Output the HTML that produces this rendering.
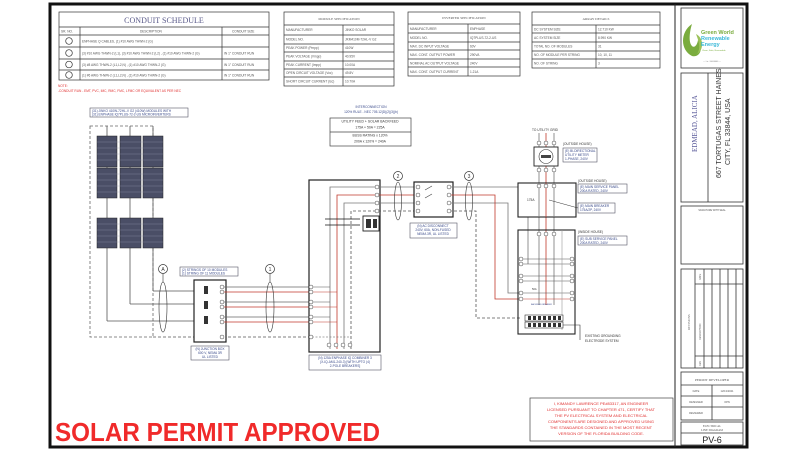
<!DOCTYPE html>
<html><head><meta charset="utf-8"><style>
html,body{margin:0;padding:0;background:#fff;}
svg{display:block;}
text{font-family:"Liberation Sans",sans-serif;}
.t{font-size:3.2px;fill:#555;}
.tb{font-size:3.2px;fill:#3a4a8a;}
.s{font-family:"Liberation Serif",serif;}
</style></head><body>
<svg width="800" height="453" viewBox="0 0 800 453" xmlns="http://www.w3.org/2000/svg">
<rect width="800" height="453" fill="#fff"/>
<!-- outer border -->
<rect x="50" y="4" width="697" height="443" fill="none" stroke="#111" stroke-width="3"/>
<line x1="675" y1="4" x2="675" y2="447" stroke="#222" stroke-width="1"/>

<!-- CONDUIT SCHEDULE -->
<g stroke="#333" stroke-width="0.7" fill="none">
<rect x="59" y="12" width="210" height="68"/>
<line x1="59" y1="27" x2="269" y2="27"/>
<line x1="59" y1="35" x2="269" y2="35"/>
<line x1="59" y1="47" x2="269" y2="47"/>
<line x1="59" y1="59" x2="269" y2="59"/>
<line x1="59" y1="70" x2="269" y2="70"/>
<line x1="80" y1="27" x2="80" y2="80"/>
<line x1="222" y1="27" x2="222" y2="80"/>
<circle cx="69" cy="41" r="3.3"/><circle cx="69" cy="53" r="3.3"/><circle cx="69" cy="64.5" r="3.3"/><circle cx="69" cy="75" r="3.3"/>
</g>
<text x="164" y="23" text-anchor="middle" class="s" font-size="8" fill="#5a5a8a">CONDUIT SCHEDULE</text>
<text x="61" y="32.5" class="t">SR. NO.</text><text x="140" y="32.5" class="t">DESCRIPTION</text><text x="232" y="32.5" class="t">CONDUIT SIZE</text>
<text x="82" y="42.5" class="t">ENPHASE Q CABLES, (1) #10 AWG THWN-2 (G)</text>
<text x="82" y="54.5" class="t">(3) #10 AWG THWN-2 (L1), (3) #10 AWG THWN-2 (L2) , (1) #10 AWG THWN-2 (G)</text>
<text x="82" y="66" class="t">(3) #8 AWG THWN-2 (L1,L2,N) , (1) #10 AWG THWN-2 (G)</text>
<text x="82" y="76.5" class="t">(1) #6 AWG THWN-2 (L1,L2,N) , (1) #10 AWG THWN-2 (G)</text>
<text x="224" y="54.5" class="t">IN 1" CONDUIT RUN</text><text x="224" y="66" class="t">IN 1" CONDUIT RUN</text><text x="224" y="76.5" class="t">IN 1" CONDUIT RUN</text>
<text x="58" y="87" font-size="3.2" fill="#e03030">NOTE:</text>
<text x="58" y="92" font-size="3.2" fill="#e03030">-CONDUIT RUN - EMT, PVC, IMC, RMC, FMC, LFMC OR EQUIVALENT AS PER NEC</text>

<!-- MODULE SPEC -->
<g stroke="#333" stroke-width="0.7" fill="none">
<rect x="284" y="12" width="110" height="74"/>
<line x1="284" y1="25" x2="394" y2="25"/><line x1="284" y1="35" x2="394" y2="35"/><line x1="284" y1="44" x2="394" y2="44"/><line x1="284" y1="52" x2="394" y2="52"/><line x1="284" y1="61" x2="394" y2="61"/><line x1="284" y1="69" x2="394" y2="69"/><line x1="284" y1="77" x2="394" y2="77"/>
<line x1="343" y1="25" x2="343" y2="86"/>
</g>
<text x="339" y="20" text-anchor="middle" class="s" font-size="3.5" fill="#555">MODULE SPECIFICATION</text>
<g class="t">
<text x="286" y="31">MANUFACTURER</text><text x="345" y="31">JINKO SOLAR</text>
<text x="286" y="40.5">MODEL NO.</text><text x="345" y="40.5">JKM410M-72HL-V G2</text>
<text x="286" y="49">PEAK POWER (Pmpp)</text><text x="345" y="49">410W</text>
<text x="286" y="57.5">PEAK VOLTAGE (Vmpp)</text><text x="345" y="57.5">40.95V</text>
<text x="286" y="66">PEAK CURRENT (Impp)</text><text x="345" y="66">10.00A</text>
<text x="286" y="74">OPEN CIRCUIT VOLTAGE (Voc)</text><text x="345" y="74">49.8V</text>
<text x="286" y="82.5">SHORT CIRCUIT CURRENT (Isc)</text><text x="345" y="82.5">10.70A</text>
</g>

<!-- INVERTER SPEC -->
<g stroke="#333" stroke-width="0.7" fill="none">
<rect x="408" y="12" width="112" height="64"/>
<line x1="408" y1="24" x2="520" y2="24"/><line x1="408" y1="33" x2="520" y2="33"/><line x1="408" y1="42" x2="520" y2="42"/><line x1="408" y1="50" x2="520" y2="50"/><line x1="408" y1="59" x2="520" y2="59"/><line x1="408" y1="67" x2="520" y2="67"/>
<line x1="468" y1="24" x2="468" y2="76"/>
</g>
<text x="464" y="19" text-anchor="middle" class="s" font-size="3.5" fill="#555">INVERTER SPECIFICATION</text>
<g class="t">
<text x="410" y="30">MANUFACTURER</text><text x="470" y="30">ENPHASE</text>
<text x="410" y="39">MODEL NO.</text><text x="470" y="39">IQ7PLUS-72-2-US</text>
<text x="410" y="47.5">MAX. DC INPUT VOLTAGE</text><text x="470" y="47.5">60V</text>
<text x="410" y="56">MAX. CONT. OUTPUT POWER</text><text x="470" y="56">290VA</text>
<text x="410" y="64.5">NOMINAL AC OUTPUT VOLTAGE</text><text x="470" y="64.5">240V</text>
<text x="410" y="73">MAX. CONT. OUTPUT CURRENT</text><text x="470" y="73">1.21A</text>
</g>

<!-- ARRAY DETAILS -->
<g stroke="#333" stroke-width="0.7" fill="none">
<rect x="532" y="12" width="128" height="56"/>
<line x1="532" y1="25" x2="660" y2="25"/><line x1="532" y1="33" x2="660" y2="33"/><line x1="532" y1="42" x2="660" y2="42"/><line x1="532" y1="51" x2="660" y2="51"/><line x1="532" y1="59" x2="660" y2="59"/>
<line x1="596" y1="25" x2="596" y2="68"/>
</g>
<text x="596" y="20" text-anchor="middle" class="s" font-size="3.5" fill="#555">ARRAY DETAILS</text>
<g class="t">
<text x="534" y="30.5">DC SYSTEM SIZE</text><text x="598" y="30.5">12.710 KW</text>
<text x="534" y="39">AC SYSTEM SIZE</text><text x="598" y="39">8.990 KW</text>
<text x="534" y="47.5">TOTAL NO. OF MODULES</text><text x="598" y="47.5">31</text>
<text x="534" y="56">NO. OF MODULE PER STRING</text><text x="598" y="56">10, 10, 11</text>
<text x="534" y="64.5">NO. OF STRING</text><text x="598" y="64.5">3</text>
</g>

<!-- TITLE BLOCK -->
<g stroke="#333" stroke-width="0.8" fill="none">
<rect x="681" y="8" width="62" height="60"/>
<rect x="681" y="73" width="62" height="129"/>
<line x1="708" y1="73" x2="708" y2="202"/>
<rect x="681" y="206" width="62" height="58"/>
<rect x="681" y="269" width="62" height="99"/>
<line x1="695" y1="269" x2="695" y2="368"/><line x1="704" y1="269" x2="704" y2="368"/><line x1="712" y1="269" x2="712" y2="368"/><line x1="720" y1="269" x2="720" y2="368"/><line x1="728" y1="269" x2="728" y2="368"/><line x1="736" y1="269" x2="736" y2="368"/>
<line x1="695" y1="284" x2="743" y2="284"/><line x1="695" y1="356" x2="743" y2="356"/>
<rect x="681" y="372" width="62" height="48"/>
<line x1="681" y1="385" x2="743" y2="385"/><line x1="681" y1="396" x2="743" y2="396"/><line x1="681" y1="407" x2="743" y2="407"/>
<line x1="712" y1="385" x2="712" y2="420"/>
<rect x="681" y="422" width="62" height="23"/>
<line x1="681" y1="433" x2="743" y2="433"/>
</g>
<!-- logo -->
<path d="M692 24 C680 32 680 50 692 56 C700 58 704 48 698 40 C697 46 694 48 692 46 C688 42 690 30 692 24 Z" fill="#7aac3e"/>
<path d="M696 34 C704 38 704 50 697 54 C701 48 699 42 696 34 Z" fill="#9cc25a"/>
<text x="701" y="34" font-size="5.5" font-weight="bold" fill="#7aac3e">Green World</text>
<text x="701" y="40" font-size="5.5" font-weight="bold" fill="#3ab8d8">Renewable</text>
<text x="701" y="46" font-size="5.5" font-weight="bold" fill="#3ab8d8">Energy</text>
<text x="702" y="51" font-size="2.2" fill="#7aac3e">Clean, Safe, Renewable</text>
<text x="712" y="62" font-size="2" fill="#777" text-anchor="middle">— Lic. #0000000 —</text>
<text transform="translate(697,152) rotate(-90)" class="s" font-size="7" fill="#5a5a9a">EDMEAD, ALICIA</text>
<text transform="translate(721,178) rotate(-90)" font-size="7" fill="#333">667 TORTUGAS STREET HAINES</text>
<text transform="translate(730,165) rotate(-90)" font-size="7" fill="#333">CITY, FL 33844, USA</text>
<text x="712" y="211" text-anchor="middle" font-size="2.4" fill="#555">SIGNATURE WITH SEAL</text>
<text transform="translate(690,330) rotate(-90)" class="s" font-size="3" fill="#555">REVISIONS</text>
<text transform="translate(701,340) rotate(-90)" font-size="2.4" fill="#555">DESCRIPTION</text>
<text transform="translate(701,280) rotate(-90)" font-size="2.4" fill="#555">DATE</text>
<text transform="translate(701,366) rotate(-90)" font-size="2.4" fill="#555">REV</text>
<text x="712" y="381" text-anchor="middle" class="s" font-size="3.5" fill="#555">PERMIT DEVELOPER</text>
<text x="696" y="392" text-anchor="middle" font-size="2.6" fill="#555">DATE</text><text x="727" y="392" text-anchor="middle" font-size="2.6" fill="#555">12/13/2021</text>
<text x="696" y="403" text-anchor="middle" font-size="2.6" fill="#555">DESIGNER</text><text x="727" y="403" text-anchor="middle" font-size="2.6" fill="#555">OPN</text>
<text x="696" y="414" text-anchor="middle" font-size="2.6" fill="#555">REVIEWER</text>
<text x="712" y="427" text-anchor="middle" class="s" font-size="3" fill="#555">ELECTRICAL</text>
<text x="712" y="431" text-anchor="middle" class="s" font-size="3" fill="#555">LINE DIAGRAM</text>
<text x="712" y="443" text-anchor="middle" font-size="9" fill="#222">PV-6</text>

<!-- PV ARRAY -->
<rect x="90" y="108" width="98" height="9" fill="none" stroke="#556" stroke-width="0.6"/>
<text x="92" y="111.8" class="tb">(31) JINKO 410W-72HL-V G2 (410W) MODULES WITH</text>
<text x="92" y="115.6" class="tb">(31) ENPHASE IQ7PLUS-72-2-US MICROINVERTERS</text>
<rect x="90" y="126" width="63" height="211" fill="none" stroke="#666" stroke-width="0.8" stroke-dasharray="3,2"/>
<g stroke="#555" stroke-width="0.8" fill="none">
<line x1="107" y1="126" x2="107" y2="321"/><line x1="107" y1="321" x2="194" y2="321"/>
<line x1="130" y1="126" x2="130" y2="304"/><line x1="130" y1="304" x2="194" y2="304"/>
<line x1="153" y1="126" x2="153" y2="291"/><line x1="153" y1="291" x2="194" y2="291"/>
</g>
<line x1="153" y1="337" x2="309" y2="337" stroke="#555" stroke-width="0.8" stroke-dasharray="3,2"/>
<g fill="#4a4e66" stroke="#222" stroke-width="0.5">
<rect x="97" y="136" width="20" height="31"/><rect x="120" y="136" width="21" height="31"/><rect x="143" y="136" width="20" height="31"/>
<rect x="97" y="168" width="20" height="30"/><rect x="120" y="168" width="21" height="30"/><rect x="143" y="168" width="20" height="30"/>
<rect x="97" y="218" width="20" height="30"/><rect x="120" y="218" width="21" height="30"/><rect x="143" y="218" width="20" height="30"/>
</g>
<g stroke="#9aa0b8" stroke-width="0.3">
<line x1="97" y1="142" x2="163" y2="142"/><line x1="97" y1="148" x2="163" y2="148"/><line x1="97" y1="154" x2="163" y2="154"/><line x1="97" y1="160" x2="163" y2="160"/>
<line x1="97" y1="174" x2="163" y2="174"/><line x1="97" y1="180" x2="163" y2="180"/><line x1="97" y1="186" x2="163" y2="186"/><line x1="97" y1="192" x2="163" y2="192"/>
<line x1="97" y1="224" x2="163" y2="224"/><line x1="97" y1="230" x2="163" y2="230"/><line x1="97" y1="236" x2="163" y2="236"/><line x1="97" y1="242" x2="163" y2="242"/>
</g>
<!-- A and 1 -->
<g stroke="#333" stroke-width="0.7" fill="#fff">
<circle cx="163" cy="269" r="4.5"/><circle cx="270" cy="269" r="4.5"/>
</g>
<text x="163" y="271" text-anchor="middle" font-size="5" fill="#333">A</text>
<text x="270" y="271" text-anchor="middle" font-size="5" fill="#333">1</text>
<line x1="163" y1="274" x2="163" y2="282" stroke="#333" stroke-width="0.6"/>
<line x1="270" y1="274" x2="270" y2="282" stroke="#333" stroke-width="0.6"/>
<rect x="180" y="267" width="58" height="9" fill="none" stroke="#556" stroke-width="0.6"/>
<text x="182" y="270.8" class="tb">(2) STRINGS OF 10 MODULES</text>
<text x="182" y="274.6" class="tb">(1) STRING OF 11 MODULES</text>

<!-- junction box -->
<rect x="194" y="280" width="32" height="62" fill="#fff" stroke="#222" stroke-width="1.2"/>
<g fill="#333"><rect x="204" y="286" width="4" height="8"/><rect x="204" y="301" width="4" height="8"/><rect x="204" y="316" width="4" height="8"/></g>
<g stroke="#666" stroke-width="0.8">
<line x1="222" y1="287" x2="309" y2="287"/><line x1="222" y1="302" x2="309" y2="302"/><line x1="222" y1="317" x2="309" y2="317"/>
</g>
<g stroke="#c0392b" stroke-width="0.8">
<line x1="222" y1="292" x2="309" y2="292"/><line x1="222" y1="307" x2="309" y2="307"/><line x1="222" y1="322" x2="309" y2="322"/>
</g>
<g fill="#fff" stroke="#444" stroke-width="0.5">
<circle cx="222" cy="287" r="2"/><circle cx="222" cy="292" r="2"/><circle cx="222" cy="302" r="2"/><circle cx="222" cy="307" r="2"/><circle cx="222" cy="317" r="2"/><circle cx="222" cy="322" r="2"/><circle cx="222" cy="337" r="2"/>
</g>
<g fill="none" stroke="#333" stroke-width="0.6">
<ellipse cx="163" cy="307" rx="4" ry="25"/><ellipse cx="270" cy="307" rx="4" ry="25"/>
</g>
<rect x="191" y="346" width="38" height="14" fill="none" stroke="#556" stroke-width="0.6"/>
<text x="210" y="350" text-anchor="middle" class="tb">(N) JUNCTION BOX</text>
<text x="210" y="354" text-anchor="middle" class="tb">600 V, NEMA 3R</text>
<text x="210" y="358" text-anchor="middle" class="tb">UL LISTED</text>

<!-- combiner -->
<rect x="309" y="180" width="71" height="172" fill="#fff" stroke="#222" stroke-width="1.2"/>
<g stroke="#777" stroke-width="0.8" fill="none">
<polyline points="330,349 330,187 377,187 398,187 414,187"/>
<polyline points="344,349 344,203 377,203 414,203"/>
</g>
<g stroke="#c0392b" stroke-width="0.8" fill="none">
<polyline points="337,349 337,195 414,195"/>
</g>
<polyline points="351,349 351,211 414,211" stroke="#555" stroke-width="0.8" fill="none" stroke-dasharray="3,2"/>
<g stroke="#555" stroke-width="0.6">
<line x1="312" y1="287" x2="330" y2="287"/><line x1="312" y1="302" x2="330" y2="302"/><line x1="312" y1="317" x2="330" y2="317"/>
<line x1="312" y1="337" x2="351" y2="337" stroke-dasharray="2,1.5"/>
</g>
<g stroke="#c0392b" stroke-width="0.6">
<line x1="312" y1="292" x2="337" y2="292"/><line x1="312" y1="307" x2="337" y2="307"/><line x1="312" y1="322" x2="337" y2="322"/>
</g>
<g fill="#fff" stroke="#444" stroke-width="0.5">
<circle cx="311" cy="287" r="2"/><circle cx="311" cy="292" r="2"/><circle cx="311" cy="302" r="2"/><circle cx="311" cy="307" r="2"/><circle cx="311" cy="317" r="2"/><circle cx="311" cy="322" r="2"/><circle cx="311" cy="337" r="2"/>
<circle cx="329" cy="345" r="2"/><circle cx="336" cy="345" r="2"/><circle cx="343" cy="345" r="2"/><circle cx="350" cy="345" r="2"/>
<circle cx="377" cy="187" r="2"/><circle cx="377" cy="195" r="2"/><circle cx="377" cy="203" r="2"/><circle cx="377" cy="211" r="2"/>
</g>
<g stroke="#111" stroke-width="0.8">
<line x1="325" y1="219" x2="360" y2="219"/><line x1="325" y1="225" x2="360" y2="225"/>
</g>
<rect x="363" y="216" width="16" height="15" fill="#fff" stroke="#222" stroke-width="0.9"/>
<rect x="366" y="219" width="5" height="9" fill="#333"/><rect x="373" y="219" width="4" height="9" fill="#333"/>
<rect x="309" y="355" width="72" height="15" fill="none" stroke="#556" stroke-width="0.6"/>
<text x="345" y="359" text-anchor="middle" class="tb">(N) 125A ENPHASE IQ COMBINER 3</text>
<text x="345" y="363" text-anchor="middle" class="tb">(X-IQ-AM1-240-3) [WITH UPTO (4)</text>
<text x="345" y="367" text-anchor="middle" class="tb">2-POLE BREAKERS]</text>

<!-- interconnection -->
<text x="371" y="108" text-anchor="middle" class="tb">INTERCONNECTION</text>
<text x="371" y="113" text-anchor="middle" class="tb">120% RULE - NEC 705.12(D)(2)(3)(b)</text>
<rect x="330" y="118" width="81" height="28" fill="none" stroke="#444" stroke-width="0.7"/>
<line x1="330" y1="132" x2="411" y2="132" stroke="#444" stroke-width="0.7"/>
<text x="370" y="122.5" text-anchor="middle" font-size="3.4" fill="#333">UTILITY FEED + SOLAR BACKFEED</text>
<text x="370" y="128.5" text-anchor="middle" font-size="3.4" fill="#333">175A + 50A = 225A</text>
<text x="370" y="136.5" text-anchor="middle" font-size="3.4" fill="#333">BUSS RATING x 120%</text>
<text x="370" y="142.5" text-anchor="middle" font-size="3.4" fill="#333">200A x 120% = 240A</text>

<!-- circles 2,3 -->
<g stroke="#333" stroke-width="0.7" fill="#fff">
<circle cx="398" cy="176" r="4.5"/><circle cx="469" cy="176" r="4.5"/>
</g>
<text x="398" y="178" text-anchor="middle" font-size="5" fill="#333">2</text>
<text x="469" y="178" text-anchor="middle" font-size="5" fill="#333">3</text>
<!-- AC disconnect -->
<rect x="414" y="182" width="39" height="35" fill="#fff" stroke="#222" stroke-width="1.2"/>
<g stroke="#777" stroke-width="0.8" fill="none">
<polyline points="449,187 528,187 528,264"/>
<polyline points="449,203 508,203 508,293 521,293"/>
</g>
<polyline points="449,195 495,195 495,299 521,299" stroke="#c0392b" stroke-width="0.8" fill="none"/>
<polyline points="449,211 476,211 476,318 521,318" stroke="#555" stroke-width="0.8" fill="none" stroke-dasharray="3,2"/>
<g stroke="#444" stroke-width="0.6"><line x1="425" y1="190" x2="432" y2="186"/><line x1="425" y1="198" x2="432" y2="194"/></g>
<g fill="#fff" stroke="#444" stroke-width="0.5">
<circle cx="418" cy="187" r="2"/><circle cx="418" cy="195" r="2"/><circle cx="418" cy="203" r="2"/><circle cx="418" cy="211" r="2"/>
<circle cx="449" cy="187" r="2"/><circle cx="449" cy="195" r="2"/><circle cx="449" cy="203" r="2"/><circle cx="449" cy="211" r="2"/>
</g>
<g fill="none" stroke="#333" stroke-width="0.6">
<ellipse cx="398" cy="201" rx="3.5" ry="19"/><ellipse cx="469" cy="201" rx="3.5" ry="19"/>
</g>
<rect x="410" y="223" width="47" height="15" fill="none" stroke="#556" stroke-width="0.6"/>
<text x="433" y="227" text-anchor="middle" class="tb">(N) AC DISCONNECT</text>
<text x="433" y="231" text-anchor="middle" class="tb">240V, 60A, NON-FUSED</text>
<text x="433" y="235" text-anchor="middle" class="tb">NEMA 3R, UL LISTED</text>

<!-- utility side -->
<text x="545" y="131" text-anchor="middle" font-size="3.2" fill="#333">TO UTILITY GRID</text>
<g stroke="#777" stroke-width="0.8"><line x1="539" y1="133" x2="539" y2="305"/><line x1="554" y1="133" x2="554" y2="305"/></g>
<line x1="546" y1="133" x2="546" y2="305" stroke="#c0392b" stroke-width="0.8"/>
<rect x="534" y="147" width="24" height="19" fill="#fff" stroke="#222" stroke-width="0.9"/>
<circle cx="546" cy="156.5" r="7" fill="#fff" stroke="#333" stroke-width="0.6"/>
<rect x="541" y="155" width="10" height="3" fill="#444"/>
<text x="563" y="145" font-size="3.2" fill="#333">(OUTSIDE HOUSE)</text>
<rect x="563" y="148" width="34" height="14" fill="none" stroke="#556" stroke-width="0.6"/>
<text x="565" y="152" class="tb">(E) BI-DIRECTIONAL</text><text x="565" y="156" class="tb">UTILITY METER</text><text x="565" y="160" class="tb">1-PHASE, 240V</text>
<rect x="518" y="183" width="58" height="34" fill="#fff" stroke="#222" stroke-width="1.1"/>
<line x1="539" y1="183" x2="539" y2="217" stroke="#777" stroke-width="0.8"/><line x1="554" y1="183" x2="554" y2="217" stroke="#777" stroke-width="0.8"/>
<line x1="546" y1="183" x2="546" y2="217" stroke="#c0392b" stroke-width="0.8"/>
<text x="527" y="201" font-size="3.2" fill="#333">175A</text>
<line x1="549" y1="200" x2="578" y2="208" stroke="#333" stroke-width="0.5"/>
<text x="578" y="182" font-size="3.2" fill="#333">(OUTSIDE HOUSE)</text>
<rect x="578" y="184" width="49" height="9" fill="none" stroke="#556" stroke-width="0.6"/>
<text x="580" y="188" class="tb">(E) MAIN SERVICE PANEL</text><text x="580" y="192" class="tb">200A RATED, 240V</text>
<rect x="578" y="203" width="37" height="10" fill="none" stroke="#556" stroke-width="0.6"/>
<text x="580" y="207" class="tb">(E) MAIN BREAKER</text><text x="580" y="211" class="tb">175A/2P, 240V</text>
<!-- sub panel -->
<rect x="518" y="230" width="57" height="104" fill="none" stroke="#222" stroke-width="1.1"/>
<text x="578" y="233" font-size="3.2" fill="#333">(INSIDE HOUSE)</text>
<rect x="578" y="236" width="49" height="9" fill="none" stroke="#556" stroke-width="0.6"/>
<text x="580" y="240" class="tb">(E) SUB SERVICE PANEL</text><text x="580" y="244" class="tb">200A RATED, 240V</text>
<g stroke="#555" stroke-width="0.6">
<line x1="521" y1="259" x2="572" y2="259"/><line x1="521" y1="264" x2="572" y2="264"/>
<line x1="521" y1="276" x2="572" y2="276"/><line x1="521" y1="281" x2="572" y2="281"/>
<line x1="521" y1="293" x2="572" y2="293"/>
</g>
<line x1="521" y1="299" x2="572" y2="299" stroke="#c0392b" stroke-width="0.6"/>
<g fill="#fff" stroke="#444" stroke-width="0.5">
<circle cx="521" cy="259" r="2"/><circle cx="521" cy="264" r="2"/><circle cx="521" cy="276" r="2"/><circle cx="521" cy="281" r="2"/><circle cx="521" cy="293" r="2"/><circle cx="521" cy="299" r="2"/>
<circle cx="572" cy="259" r="2"/><circle cx="572" cy="264" r="2"/><circle cx="572" cy="276" r="2"/><circle cx="572" cy="281" r="2"/><circle cx="572" cy="293" r="2"/><circle cx="572" cy="299" r="2"/>
<circle cx="539" cy="234" r="2"/><circle cx="546" cy="234" r="2"/><circle cx="554" cy="234" r="2"/>
<circle cx="539" cy="186" r="2"/><circle cx="546" cy="186" r="2"/><circle cx="554" cy="186" r="2"/>
<circle cx="539" cy="143" r="2"/><circle cx="546" cy="143" r="2"/><circle cx="554" cy="143" r="2"/>
<circle cx="539" cy="170" r="2"/><circle cx="546" cy="170" r="2"/><circle cx="554" cy="170" r="2"/>
</g>
<text x="532" y="290" font-size="2.6" fill="#333">50A</text>
<text x="531" y="305" font-size="2" fill="#3a4a8a">BACKFEED BREAKER</text>
<line x1="562" y1="230" x2="562" y2="330" stroke="#999" stroke-width="0.6"/>
<g fill="#fff" stroke="#333" stroke-width="0.6">
<rect x="525" y="315" width="38" height="6"/><rect x="525" y="322" width="38" height="6"/>
</g>
<g fill="#333">
<rect x="528" y="316" width="3" height="4"/><rect x="533" y="316" width="3" height="4"/><rect x="538" y="316" width="3" height="4"/><rect x="543" y="316" width="3" height="4"/><rect x="548" y="316" width="3" height="4"/><rect x="553" y="316" width="3" height="4"/><rect x="558" y="316" width="3" height="4"/>
<rect x="528" y="323" width="3" height="4"/><rect x="533" y="323" width="3" height="4"/><rect x="538" y="323" width="3" height="4"/><rect x="543" y="323" width="3" height="4"/><rect x="548" y="323" width="3" height="4"/><rect x="553" y="323" width="3" height="4"/><rect x="558" y="323" width="3" height="4"/>
</g>
<polyline points="563,325 580,325 580,340" fill="none" stroke="#333" stroke-width="0.6"/>
<text x="585" y="337" font-size="3.2" fill="#333">EXISTING GROUNDING</text>
<text x="585" y="342" font-size="3.2" fill="#333">ELECTRODE SYSTEM</text>

<!-- certification -->
<rect x="530" y="398" width="143" height="43" fill="none" stroke="#444" stroke-width="0.7"/>
<g font-size="4" fill="#e03030" text-anchor="middle">
<text x="601" y="405">I, KIMANDY LAWRENCE PE#83317, AN ENGINEER</text>
<text x="601" y="411">LICENSED PURSUANT TO CHAPTER 471, CERTIFY THAT</text>
<text x="601" y="417">THE PV ELECTRICAL SYSTEM AND ELECTRICAL</text>
<text x="601" y="423">COMPONENTS ARE DESIGNED AND APPROVED USING</text>
<text x="601" y="429">THE STANDARDS CONTAINED IN THE MOST RECENT</text>
<text x="601" y="435">VERSION OF THE FLORIDA BUILDING CODE.</text>
</g>
<text x="55" y="441" font-size="26" font-weight="bold" fill="#f02a2a" textLength="325" lengthAdjust="spacingAndGlyphs">SOLAR PERMIT APPROVED</text>
</svg>
</body></html>
